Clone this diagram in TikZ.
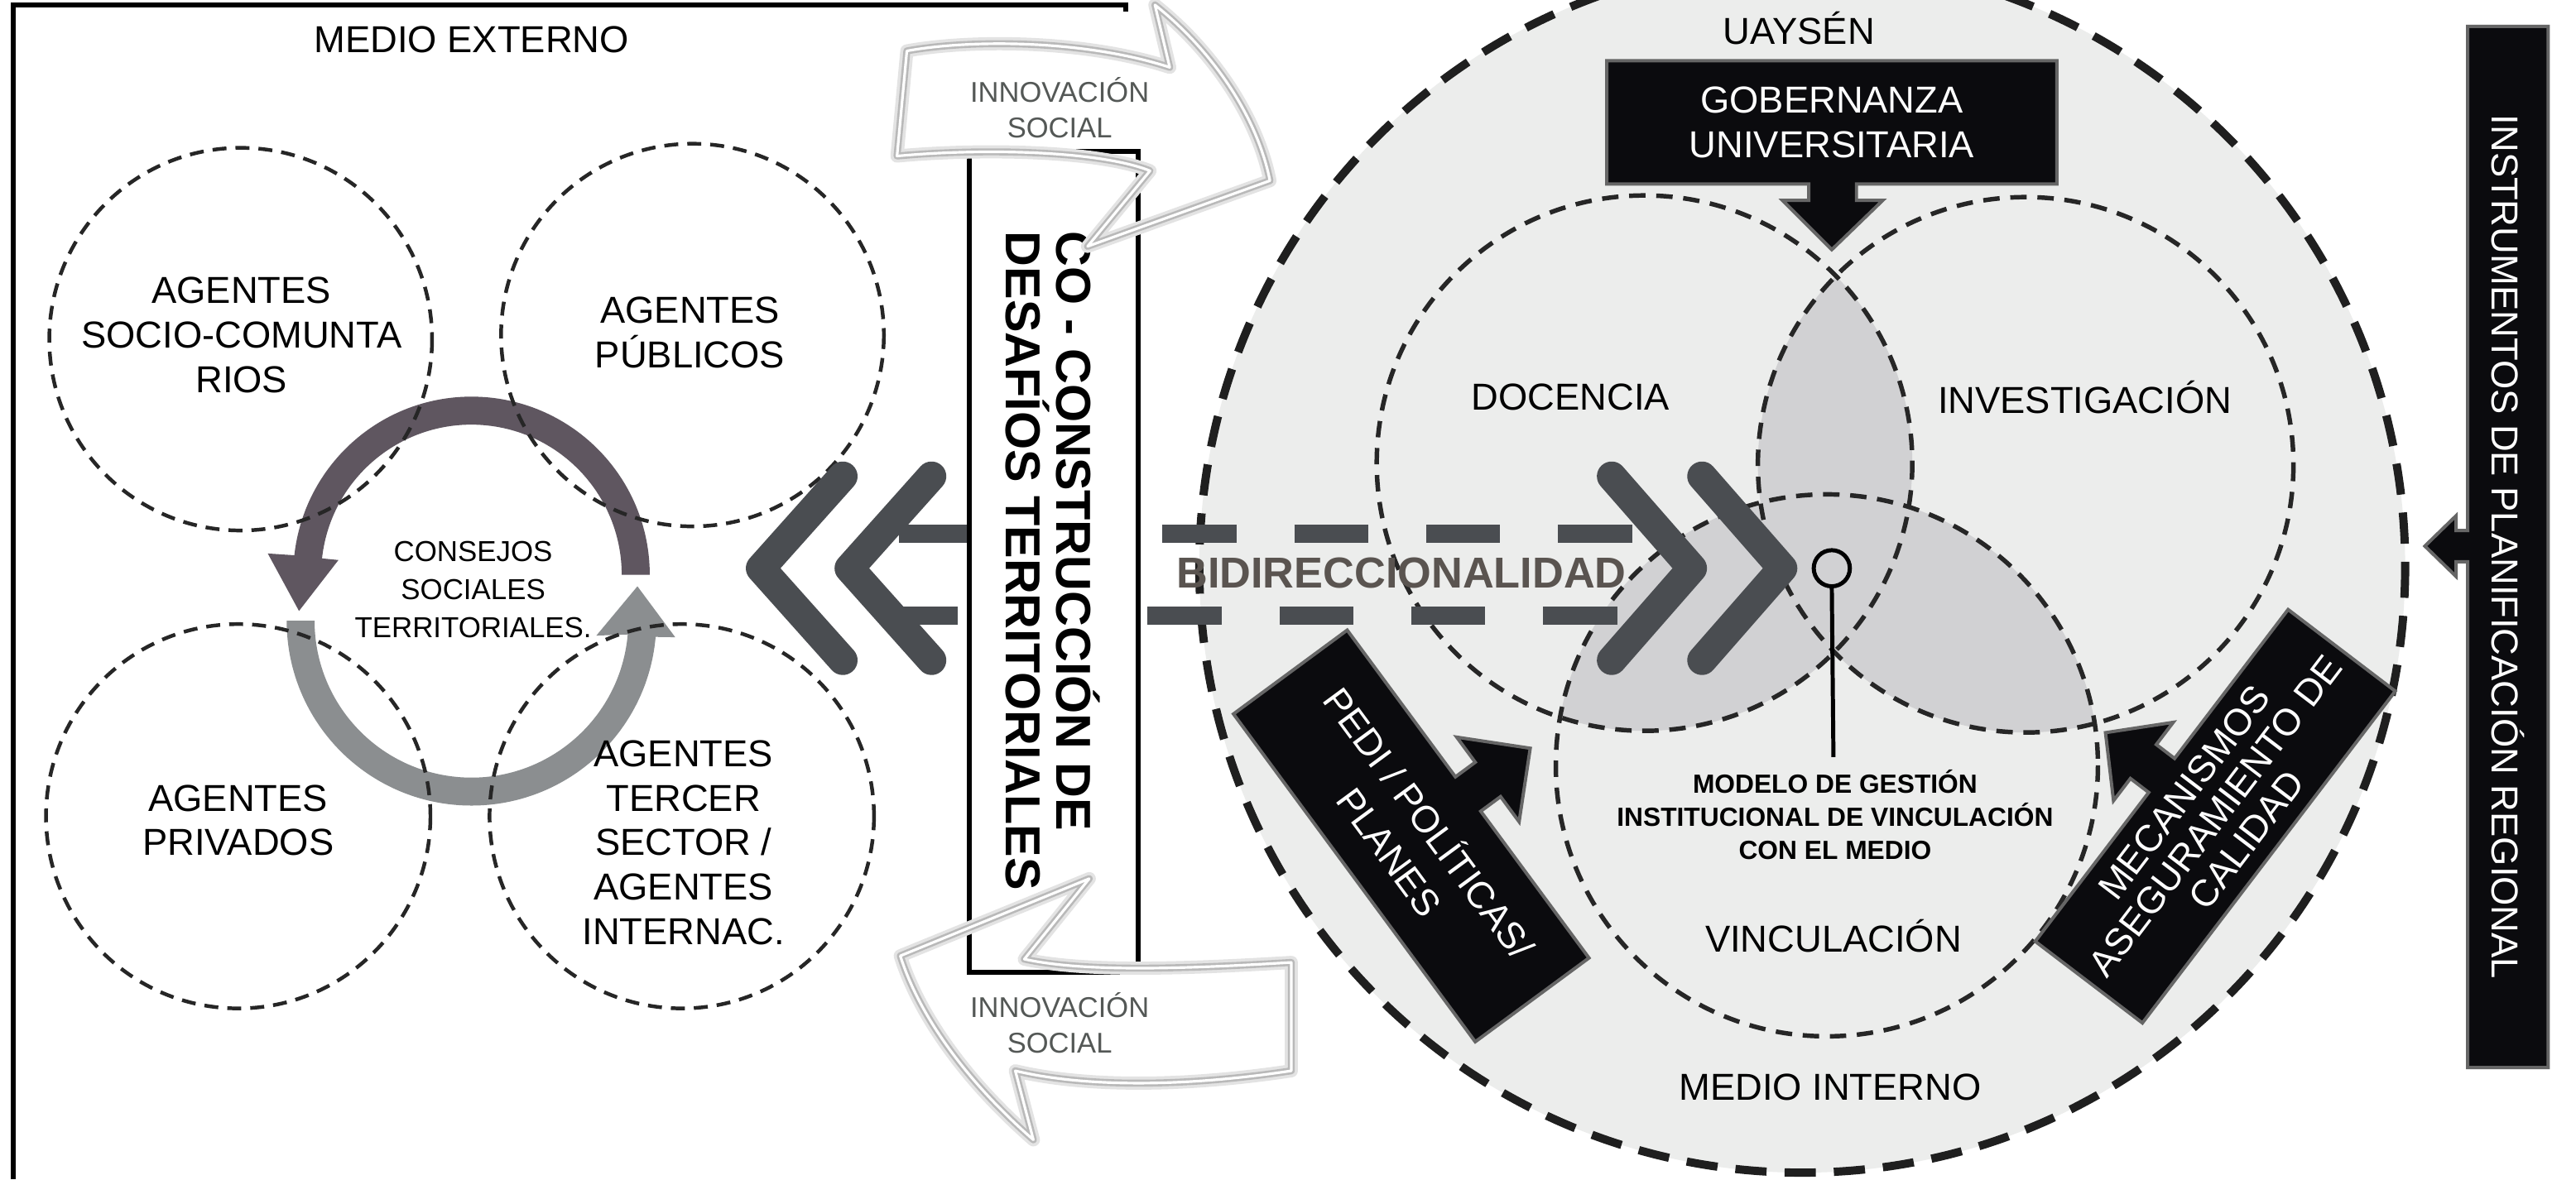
\documentclass[tikz,border=0pt]{standalone}
\usepackage{fontspec}
\setmainfont{Liberation Sans}
\definecolor{bigfill}{HTML}{ECEDEC}
\definecolor{lensfill}{HTML}{D1D1D3}
\definecolor{chev}{HTML}{4A4D51}
\definecolor{ringA}{HTML}{5F5660}
\definecolor{ringB}{HTML}{8B8E90}
\definecolor{boxblk}{HTML}{0B0B0E}
\definecolor{bidi}{HTML}{5A5450}
\definecolor{innov}{HTML}{545856}
\newcommand\fsReg{\fontsize{13}{15.4}\selectfont}
\newcommand\fsSmall{\fontsize{10}{13.1}\selectfont}
\newcommand\fsInno{\fontsize{9.9}{12.3}\selectfont}
\newcommand\fsModelo{\fontsize{9.1}{11.4}\selectfont\bfseries}
\newcommand\fsBidi{\fontsize{15}{18}\selectfont\bfseries}
\newcommand\fsCo{\fontsize{17}{17.6}\selectfont\bfseries}
\newcommand\fsPedi{\fontsize{13}{17}\selectfont}
\newcommand\fsMec{\fontsize{13}{13.6}\selectfont}
\newcommand\innoUpperPath{(552,31) .. controls (590,24) and (660,24) .. (712,41) -- (703,3) .. controls (737,30) and (765,70) .. (773,110) -- (662,150) -- (700,104) .. controls (670,92) and (600,90) .. (546,95) -- cycle}
\newcommand\innoLowerPath{(663,535) -- (623.5,584) .. controls (660,592) and (720,590) .. (786,586) -- (786,652) .. controls (720,662) and (660,662) .. (618,652) -- (629,694) .. controls (590,660) and (560,620) .. (548,582) -- cycle}
\begin{document}
\begin{tikzpicture}[x=0.02cm, y=-0.02cm,
  thindash/.style={draw=black!85, line width=0.045cm, dash pattern=on 0.17cm off 0.11cm},
  venndash/.style={draw=black!85, line width=0.055cm, dash pattern=on 0.2cm off 0.13cm},
  bigdash/.style={draw=black!88, line width=0.1cm, dash pattern=on 0.38cm off 0.22cm},
  lbl/.style={inner sep=0pt, align=center, font=\fsReg},
  chevstroke/.style={draw=chev, line width=0.36cm, line cap=round, line join=round},
  bidash/.style={draw=chev, line width=0.22cm, dash pattern=on 0.9cm off 0.706cm},
  glowouter/.style={draw=gray!22, line width=0.16cm, line join=round},
  glowmid/.style={draw=gray!55, line width=0.085cm, line join=round},
  glowinner/.style={draw=white, line width=0.032cm, line join=round},
  blackbox/.style={fill=boxblk, draw=black!60, line width=0.04cm, line join=miter},
]
\useasboundingbox (0,0) rectangle (1568,718);
\clip (0,0) rectangle (1568,718);
\fill[white] (0,0) rectangle (1568,718);

% MEDIO EXTERNO frame
\draw[line width=0.06cm] (8,718) -- (8,3) -- (685,3) -- (685,7);
\node[lbl] (medioext) at (287,24) {MEDIO EXTERNO};

% ring arrows
\fill[ringA] (395.5,350) arc[start angle=0, end angle=-173.7, radius=108.5]
  -- (163,337) -- (182,372) -- (206,341) -- (196,340)
  arc[start angle=-173.7, end angle=0, radius=91.5] -- cycle;
\fill[ringB] (174.5,378) arc[start angle=180, end angle=5, radius=112.5]
  -- (411,388) -- (388,357) -- (363,387) -- (382.1,386.3)
  arc[start angle=5, end angle=180, radius=95.5] -- cycle;

% left dashed circles
\draw[thindash] (146.5,206.5) circle[radius=116.5];
\draw[thindash] (421.5,204) circle[radius=116.5];
\draw[thindash] (145,497) circle[radius=117];
\draw[thindash] (415,497) circle[radius=117];

\node[lbl] (agsocio) at (147,204) {AGENTES\\SOCIO-COMUNTA\\RIOS};
\node[lbl] (agpub) at (420,202.5) {AGENTES\\PÚBLICOS};
\node[lbl] (agpriv) at (145,499.5) {AGENTES\\PRIVADOS};
\node[lbl] (agter) at (416,513) {AGENTES\\TERCER\\SECTOR /\\AGENTES\\INTERNAC.};
\node[lbl, font=\fsSmall] (consejos) at (288,359) {CONSEJOS\\SOCIALES\\TERRITORIALES.};

% big circle (UAYSEN)
\fill[bigfill] (1097,345) ellipse[x radius=367, y radius=369];
\begin{scope}
  \clip (1001,282) circle[radius=163];
  \fill[lensfill] (1233,283) circle[radius=163];
  \fill[lensfill] (1112,466) circle[radius=165];
\end{scope}
\begin{scope}
  \clip (1233,283) circle[radius=163];
  \fill[lensfill] (1112,466) circle[radius=165];
\end{scope}
\draw[venndash] (1001,282) circle[radius=163];
\draw[venndash] (1233,283) circle[radius=163];
\draw[venndash] (1112,466) circle[radius=165];
\draw[bigdash] (1097,345) ellipse[x radius=367, y radius=369];

% bidireccionalidad dashed bars
\draw[bidash] (547,325) -- (995,325);
\draw[bidash] (538,375) -- (986,375);
\node[inner sep=0pt, font=\fsBidi, text=bidi] (bidi) at (853,349) {BIDIRECCIONALIDAD};

% central box
\node[draw, line width=0.06cm, fill=white, minimum width=2.06cm, minimum height=10cm, inner sep=0pt] (cobox) at (641.5,342) {};
\node[rotate=-90, inner sep=0pt, align=left, font=\fsCo] (cotext) at (641,341.5) {CO - CONSTRUCCIÓN DE\\DESAFÍOS TERRITORIALES};

% innovacion arrows
\draw[glowouter] \innoUpperPath;
\draw[glowmid] \innoUpperPath;
\draw[glowinner] \innoUpperPath;
\draw[glowouter] \innoLowerPath;
\draw[glowmid] \innoLowerPath;
\draw[glowinner] \innoLowerPath;
\node[lbl, font=\fsInno, text=innov] (innoA) at (645,65.5) {INNOVACIÓN\\SOCIAL};
\node[lbl, font=\fsInno, text=innov] (innoB) at (645,623) {INNOVACIÓN\\SOCIAL};

% chevrons
\draw[chevstroke] (513,290) -- (463,346) -- (513,402);
\draw[chevstroke] (567,290) -- (517,346) -- (567,402);
\draw[chevstroke] (981,290) -- (1030,346) -- (981,402);
\draw[chevstroke] (1036,290) -- (1085,346) -- (1036,402);

% pin
\node[circle, draw, line width=0.05cm, minimum size=0.44cm, inner sep=0pt] (pin) at (1115,346) {};
\coordinate (pinend) at (1116,461);
\draw[line width=0.05cm] (pin.south) -- (pinend);

% texts inside big circle
\node[lbl] (uaysen) at (1095,17) {UAYSÉN};
\node[lbl] (docencia) at (956,242) {DOCENCIA};
\node[lbl] (invest) at (1269,242) {INVESTIGACIÓN};
\node[lbl] (vincul) at (1116,570) {VINCULACIÓN};
\node[lbl] (mediointerno) at (1114,662) {MEDIO INTERNO};
\node[lbl, font=\fsModelo] (modelo) at (1117,496) {MODELO DE GESTIÓN\\INSTITUCIONAL DE VINCULACIÓN\\CON EL MEDIO};

% gobernanza box with arrow
\filldraw[blackbox] (978,37) -- (1252,37) -- (1252,112) -- (1130,112) -- (1130,122) -- (1146,122)
  -- (1115,152) -- (1085,122) -- (1101,122) -- (1101,112) -- (978,112) -- cycle;
\node[lbl, text=white] (gob) at (1115,74.5) {GOBERNANZA\\UNIVERSITARIA};

% PEDI box
\begin{scope}[shift={(859,509)}, rotate=-53.6]
  \filldraw[blackbox] (-124,-43) -- (-13,-43) -- (-13,-58) -- (-32,-58) -- (0,-90) -- (32,-58)
    -- (13,-58) -- (13,-43) -- (124,-43) -- (124,43) -- (-124,43) -- cycle;
\end{scope}
\node[rotate=-53.6, inner sep=0pt, align=center, font=\fsPedi, text=white] (pedi) at (859,509) {PEDI / POLÍTICAS/\\PLANES};

% MECANISMOS box
\begin{scope}[shift={(1348.4,497)}, rotate=52.7]
  \filldraw[blackbox] (-127,-41) -- (-13,-41) -- (-13,-55) -- (-30,-55) -- (0,-84) -- (30,-55)
    -- (13,-55) -- (13,-41) -- (127,-41) -- (127,41) -- (-127,41) -- cycle;
\end{scope}
\node[rotate=52.7, inner sep=0pt, align=center, font=\fsMec, text=white] (mec) at (1348.4,497) {MECANISMOS\\ASEGURAMIENTO DE\\CALIDAD};

% INSTRUMENTOS bar
\filldraw[blackbox] (1502,16) -- (1551,16) -- (1551,650) -- (1502,650) -- (1502,342) -- (1495,342)
  -- (1495,351) -- (1476,332.5) -- (1495,314) -- (1495,323) -- (1502,323) -- cycle;
\node[rotate=-90, inner sep=0pt, font=\fsReg, text=white] (instr) at (1526.5,333) {INSTRUMENTOS DE PLANIFICACIÓN REGIONAL};
\end{tikzpicture}
\end{document}
